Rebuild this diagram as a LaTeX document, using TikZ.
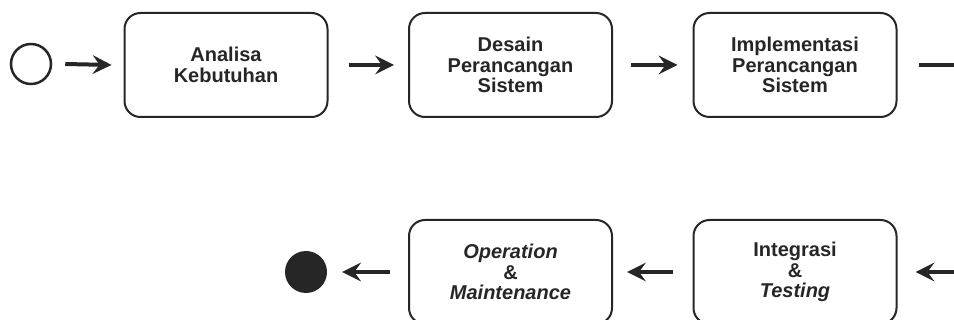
\documentclass[tikz,border=0pt]{standalone}
\usepackage{fontspec}
\setmainfont{Liberation Sans}
\usetikzlibrary{arrows.meta}
\definecolor{ink}{HTML}{262626}
\tikzset{myhead/.tip={Stealth[length=19pt,width=19pt,inset=7pt,line width=0pt]}}
\begin{document}
\begin{tikzpicture}[x=1pt,y=-1pt,
  stepbox/.style={draw=ink,line width=2pt,rounded corners=16pt,minimum width=203pt,minimum height=104pt,
    align=center,text=ink,font=\fontsize{20}{20.5}\selectfont\bfseries,inner sep=0pt},
  flow/.style={draw=ink,line width=4pt,arrows={-myhead}},
  plain/.style={draw=ink,line width=4pt}]
\useasboundingbox (0,0) rectangle (954,320);
\fill[white] (0,0) rectangle (954,320);
\node[circle,draw=ink,line width=2.5pt,minimum size=40pt,inner sep=0pt] (start) at (31,64) {};
\node[stepbox] (A) at (226,65) {Analisa\\Kebutuhan};
\node[stepbox] (D) at (510.5,65) {Desain\\Perancangan\\Sistem};
\node[stepbox] (I) at (795,65) {Implementasi\\Perancangan\\Sistem};
\node[stepbox] (IT) at (795,272) {Integrasi\\\&\\\textit{Testing}};
\node[stepbox] (OM) at (510.5,272) {\textit{Operation}\\\&\\\textit{Maintenance}};
\node[circle,fill=ink,minimum size=42pt,inner sep=0pt] (end) at (306,272) {};
\coordinate (outTop) at (954,65);
\coordinate (inBot) at (954,272);
\draw[flow] ([xshift=13pt]start.east) -- ([xshift=-12pt]A.west);
\draw[flow] ([xshift=20pt]A.east) -- ([xshift=-14pt]D.west);
\draw[flow] ([xshift=18pt]D.east) -- ([xshift=-15pt]I.west);
\draw[plain] ([xshift=21pt]I.east) -- (outTop);
\draw[flow] (inBot) -- ([xshift=18pt]IT.east);
\draw[flow] ([xshift=-20pt]IT.west) -- ([xshift=14pt]OM.east);
\draw[flow] ([xshift=-18pt]OM.west) -- ([xshift=15pt]end.east);
\end{tikzpicture}
\end{document}
